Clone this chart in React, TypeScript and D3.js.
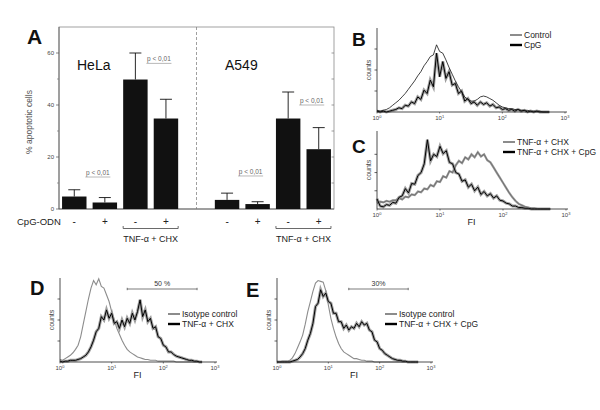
import React from 'react';
import * as d3 from 'd3';

// ---------- Panel A data ----------
const CPG_LABELS = ['-', '+', '-', '+'];
const HELA_MEAN = [4.8, 2.5, 49.8, 34.8];
const HELA_SD = [2.6, 1.9, 10.2, 7.4];
const A549_MEAN = [3.5, 1.9, 34.8, 23.0];
const A549_SD = [2.6, 0.9, 10.2, 8.3];
const Y_TICKS = [0, 20, 40, 60];
const Y_MINOR = [10, 30, 50];
const Y_RIGHT = [10, 20, 30, 40, 50, 60];
const P_TEXT = 'p < 0,01';
const HELA_P_LEVELS = [12.3, 56];
const A549_P_LEVELS = [12.7, 40];
const SLOTS = ['h0', 'h1', 'h2', 'h3', 'gap', 'a0', 'a1', 'a2', 'a3'];

// ---------- Histogram data (channel = 0.05 decade) ----------
const LOG_STEP = 0.05;
const DECADES = [0, 1, 2, 3];
const B_CONTROL = [2,1,2,3,5,8,11,14,18,22, 27,32,37,43,48,55,60,66,68,80, 72,70,62,53,45,37,30,24,18,15, 13,13,15,18,19,18,16,14,11,8, 6,5,4,4,3,3,2,2,2,1, 1,1,1,0,0,0];
const B_CPG = [1,0,1,0,1,2,3,5,4,8, 7,12,10,18,15,26,22,38,30,70, 42,60,40,48,32,34,22,25,13,16, 10,12,8,12,9,11,7,9,5,6, 3,4,2,3,1,3,1,2,0,1, 0,1,0,0,0,0];
const C_TNF = [8,10,9,11,10,12,12,15,13,17, 16,20,19,24,23,28,27,33,31,38, 37,45,43,52,50,60,66,63,71,68, 75,71,78,72,75,67,64,57,50,43, 36,29,22,16,11,7,5,3,2,1, 1,0,0,0,0,0];
const C_TNF_CPG = [14,4,3,6,5,9,8,16,18,28, 22,35,34,46,50,62,95,66,75,72, 86,76,80,64,62,50,48,38,40,30, 34,25,30,20,24,18,21,15,18,12, 11,8,7,4,4,2,2,1,1,0, 0,0,0,0,0,0];
const D_ISO = [3,2,4,6,8,11,15,20,30,45, 60,75,88,97,92,99,90,88,80,72, 60,50,40,33,26,20,15,12,10,8, 6,5,4,3,3,2,2,2,1,1, 1,1,1,1,1,0,0,0,0,0, 0,0,0,0,0,0];
const D_TNF = [1,0,1,1,2,2,2,3,4,6, 8,12,18,26,36,40,54,50,62,52, 58,46,48,40,50,42,52,46,58,50, 60,74,54,62,48,52,40,42,30,28, 20,18,12,12,9,7,6,5,4,3, 2,2,1,1,0,0];
const E_ISO = [0,0,1,1,1,2,5,10,17,24, 32,45,60,72,84,94,97,96,95,85, 68,52,40,30,22,16,12,10,8,6, 4,4,3,2,2,1,1,1,0,0, 0,0,0,0,0,0,0,0,0,0, 0,0,0,0,0,0];
const E_TNF_CPG = [0,0,0,0,0,0,1,2,3,6, 10,16,26,34,46,66,70,86,78,82, 72,70,58,58,48,48,40,44,38,42, 40,46,42,48,44,46,38,36,26,24, 16,14,10,8,6,4,3,2,2,1, 1,0,0,0,0,0];
const D_GATE = [20, 450];
const E_GATE = [25, 360];

const FONT = 'Liberation Sans, Arial, Helvetica, sans-serif';

type Series = { values: number[]; kind: 'thin' | 'gray' | 'grayBold' | 'bold' };

function Decade({ x, y, p }: { x: number; y: number; p: number }) {
  return (
    <text x={x} y={y} fontSize={6} fontFamily={FONT} fill="#444" textAnchor="middle">
      10<tspan fontSize={4} dy={-2.5}>{p}</tspan>
    </text>
  );
}

function Histogram(props: {
  x0: number; x1: number; base: number; top: number; yMax: number;
  series: Series[]; fi?: boolean;
}) {
  const { x0, x1, base, top, yMax, series, fi } = props;
  const xs = d3.scaleLog().domain([1, 1000]).range([x0, x1]);
  const ys = d3.scaleLinear().domain([0, yMax]).range([base, top]);
  const line = d3.line<number>()
    .x((_, i) => xs(Math.pow(10, i * LOG_STEP)))
    .y((d) => ys(d));
  return (
    <g>
      {series.map((s, k) => {
        const d = line(s.values) || '';
        if (s.kind === 'thin') return <path key={k} d={d} fill="none" stroke="#111" strokeWidth={0.8} />;
        if (s.kind === 'gray') return <path key={k} d={d} fill="none" stroke="#8c8c8c" strokeWidth={1.1} />;
        if (s.kind === 'grayBold')
          return (
            <g key={k}>
              <path d={d} fill="none" stroke="#9a9a9a" strokeWidth={2.2} />
              <path d={d} fill="none" stroke="#555" strokeWidth={0.6} />
            </g>
          );
        return (
          <g key={k}>
            <path d={d} fill="none" stroke="#888" strokeWidth={3} strokeOpacity={0.8} />
            <path d={d} fill="none" stroke="#000" strokeWidth={1.0} />
          </g>
        );
      })}
      <line x1={x0} x2={x0} y1={base} y2={top} stroke="#222" strokeWidth={0.8} />
      <line x1={x0} x2={x1 + 2} y1={base} y2={base} stroke="#222" strokeWidth={0.8} />
      {[25, 50, 75].map((t) => (
        <line key={t} x1={x0 - 2.5} x2={x0} y1={ys(t)} y2={ys(t)} stroke="#222" strokeWidth={0.7} />
      ))}
      {DECADES.map((p) => (
        <g key={p}>
          <line x1={xs(Math.pow(10, p))} x2={xs(Math.pow(10, p))} y1={base} y2={base + 1.5} stroke="#222" strokeWidth={0.6} />
          <Decade x={xs(Math.pow(10, p))} y={base + 8} p={p} />
        </g>
      ))}
      <text
        transform={`translate(${x0 - 6},${(base + top) / 2}) rotate(-90)`}
        fontSize={7} fontFamily={FONT} fill="#444" textAnchor="middle"
      >counts</text>
      {fi && (
        <text x={(xs(10) + xs(100)) / 2} y={base + 16} fontSize={9} fontFamily={FONT} fill="#222" textAnchor="middle">FI</text>
      )}
    </g>
  );
}

function Gate({ x0, x1, y, gate, label }: { x0: number; x1: number; y: number; gate: number[]; label: string }) {
  const xs = d3.scaleLog().domain([1, 1000]).range([x0, x1]);
  const a = xs(gate[0]);
  const b = xs(gate[1]);
  return (
    <g>
      <line x1={a} x2={b} y1={y} y2={y} stroke="#444" strokeWidth={0.7} />
      <line x1={a} x2={a} y1={y - 1.2} y2={y + 1.2} stroke="#444" strokeWidth={0.7} />
      <line x1={b} x2={b} y1={y - 1.2} y2={y + 1.2} stroke="#444" strokeWidth={0.7} />
      <text x={(a + b) / 2} y={y - 3} fontSize={7} fontFamily={FONT} fill="#333" textAnchor="middle">{label}</text>
    </g>
  );
}

function Legend({ x, y, items }: { x: number; y: number; items: { label: string; kind: 'thin' | 'gray' | 'bold' }[] }) {
  return (
    <g>
      {items.map((it, i) => (
        <g key={i}>
          <line x1={x} x2={x + 12} y1={y + i * 10} y2={y + i * 10}
            stroke={it.kind === 'gray' ? '#8c8c8c' : '#000'}
            strokeWidth={it.kind === 'thin' ? 0.9 : it.kind === 'gray' ? 2 : 2.4} />
          <text x={x + 14} y={y + i * 10 + 3} fontSize={8.5} fontFamily={FONT} fill="#222">{it.label}</text>
        </g>
      ))}
    </g>
  );
}

function PanelA() {
  const left = 59, right = 334, base = 209, top = 27;
  const x = d3.scaleBand<string>().domain(SLOTS).range([left, right]).paddingInner(0.2).paddingOuter(0.1);
  const y = d3.scaleLinear().domain([0, 70]).range([base, top]);
  const bw = x.bandwidth();
  const groups = [
    { keys: ['h0', 'h1', 'h2', 'h3'], mean: HELA_MEAN, sd: HELA_SD, p: HELA_P_LEVELS },
    { keys: ['a0', 'a1', 'a2', 'a3'], mean: A549_MEAN, sd: A549_SD, p: A549_P_LEVELS },
  ];
  const divX = (x('gap')! + bw / 2);
  return (
    <g>
      <rect x={left} y={top} width={right - left} height={base - top} fill="none" stroke="#8a8a8a" strokeWidth={0.8} />
      <line x1={left} x2={left} y1={top} y2={base} stroke="#555" strokeWidth={0.8} />
      <line x1={left} x2={right} y1={base} y2={base} stroke="#555" strokeWidth={0.8} />
      <line x1={divX} x2={divX} y1={top} y2={base} stroke="#777" strokeWidth={0.7} strokeDasharray="3,2" />
      {Y_TICKS.map((t) => (
        <g key={t}>
          <line x1={left - 3} x2={left} y1={y(t)} y2={y(t)} stroke="#555" strokeWidth={0.7} />
          <text x={left - 5} y={y(t) + 2} fontSize={6} fontFamily={FONT} fill="#444" textAnchor="end">{t}</text>
        </g>
      ))}
      {Y_MINOR.map((t) => (
        <line key={t} x1={left - 2} x2={left} y1={y(t)} y2={y(t)} stroke="#777" strokeWidth={0.7} />
      ))}
      {Y_RIGHT.map((t) => (
        <line key={t} x1={right - 2.5} x2={right} y1={y(t)} y2={y(t)} stroke="#777" strokeWidth={0.7} />
      ))}
      <text transform={`translate(${32},${122}) rotate(-90)`} fontSize={8.5} fontFamily={FONT} fill="#555" textAnchor="middle">% apoptotic cells</text>
      {groups.map((g, gi) => (
        <g key={gi}>
          {g.keys.map((k, i) => {
            const cx = x(k)! + bw / 2;
            const yt = y(g.mean[i]);
            const ye = y(g.mean[i] + g.sd[i]);
            return (
              <g key={k}>
                <line x1={cx} x2={cx} y1={yt} y2={ye} stroke="#111" strokeWidth={0.9} />
                <line x1={cx - 6} x2={cx + 6} y1={ye} y2={ye} stroke="#111" strokeWidth={0.9} />
                <rect x={x(k)} y={yt} width={bw} height={base - yt} fill="#111" />
                <text x={cx} y={225} fontSize={10} fontFamily={FONT} fill="#222" textAnchor="middle">{CPG_LABELS[i]}</text>
              </g>
            );
          })}
          {[0, 1].map((pi) => {
            const k2 = g.keys[pi * 2 + 1];
            const cx = x(k2)! + bw / 2 - 7;
            const yy = y(g.p[pi]);
            return (
              <g key={pi}>
                <text x={cx} y={yy - 2} fontSize={6.5} fontFamily={FONT} fill="#666" textAnchor="middle">{P_TEXT}</text>
                <line x1={cx - 12.5} x2={cx + 12.5} y1={yy} y2={yy} stroke="#888" strokeWidth={0.6} />
              </g>
            );
          })}
          {(() => {
            const xa = x(g.keys[2])!;
            const xb = x(g.keys[3])! + bw;
            const by = 228.5;
            return (
              <g>
                <path d={`M${xa},${by - 2.5}V${by}H${xb}V${by - 2.5}`} fill="none" stroke="#444" strokeWidth={0.8} />
                <text x={(xa + xb) / 2} y={242} fontSize={9} fontFamily={FONT} fill="#222" textAnchor="middle">TNF-α + CHX</text>
              </g>
            );
          })()}
        </g>
      ))}
      <text x={77} y={70} fontSize={14} fontFamily={FONT} fill="#111">HeLa</text>
      <text x={225} y={70} fontSize={14} fontFamily={FONT} fill="#111">A549</text>
      <text x={17} y={225} fontSize={9.5} fontFamily={FONT} fill="#222">CpG-ODN</text>
      <text x={27} y={44} fontSize={21} fontWeight="bold" fontFamily={FONT} fill="#111">A</text>
    </g>
  );
}

export default function App() {
  return (
    <svg width={600} height={410} style={{ position: 'absolute', left: 0, top: 0, background: '#fff' }}>
      <rect width={600} height={410} fill="#fff" />
      <PanelA />
      {/* B */}
      <Histogram x0={377} x1={565} base={112} top={28} yMax={100}
        series={[{ values: B_CPG, kind: 'bold' }, { values: B_CONTROL, kind: 'thin' }]} />
      <Legend x={510} y={35} items={[{ label: 'Control', kind: 'thin' }, { label: 'CpG', kind: 'bold' }]} />
      <text x={352} y={46} fontSize={19} fontWeight="bold" fontFamily={FONT} fill="#111">B</text>
      {/* C */}
      <Histogram x0={377} x1={566} base={209} top={131} yMax={107}
        series={[{ values: C_TNF, kind: 'grayBold' }, { values: C_TNF_CPG, kind: 'bold' }]} fi />
      <Legend x={503} y={142} items={[{ label: 'TNF-α + CHX', kind: 'gray' }, { label: 'TNF-α + CHX + CpG', kind: 'bold' }]} />
      <text x={352} y={153} fontSize={19} fontWeight="bold" fontFamily={FONT} fill="#111">C</text>
      {/* D */}
      <Histogram x0={60} x1={215} base={362} top={278} yMax={100}
        series={[{ values: D_ISO, kind: 'gray' }, { values: D_TNF, kind: 'bold' }]} fi />
      <Gate x0={60} x1={215} y={289} gate={D_GATE} label="50 %" />
      <Legend x={168} y={314} items={[{ label: 'Isotype control', kind: 'gray' }, { label: 'TNF-α + CHX', kind: 'bold' }]} />
      <text x={30} y={295} fontSize={20} fontWeight="bold" fontFamily={FONT} fill="#111">D</text>
      {/* E */}
      <Histogram x0={277} x1={431} base={362} top={278} yMax={100}
        series={[{ values: E_ISO, kind: 'gray' }, { values: E_TNF_CPG, kind: 'bold' }]} fi />
      <Gate x0={277} x1={431} y={289} gate={E_GATE} label="30%" />
      <Legend x={385} y={314} items={[{ label: 'Isotype control', kind: 'gray' }, { label: 'TNF-α + CHX + CpG', kind: 'bold' }]} />
      <text x={246} y={297} fontSize={20} fontWeight="bold" fontFamily={FONT} fill="#111">E</text>
    </svg>
  );
}
